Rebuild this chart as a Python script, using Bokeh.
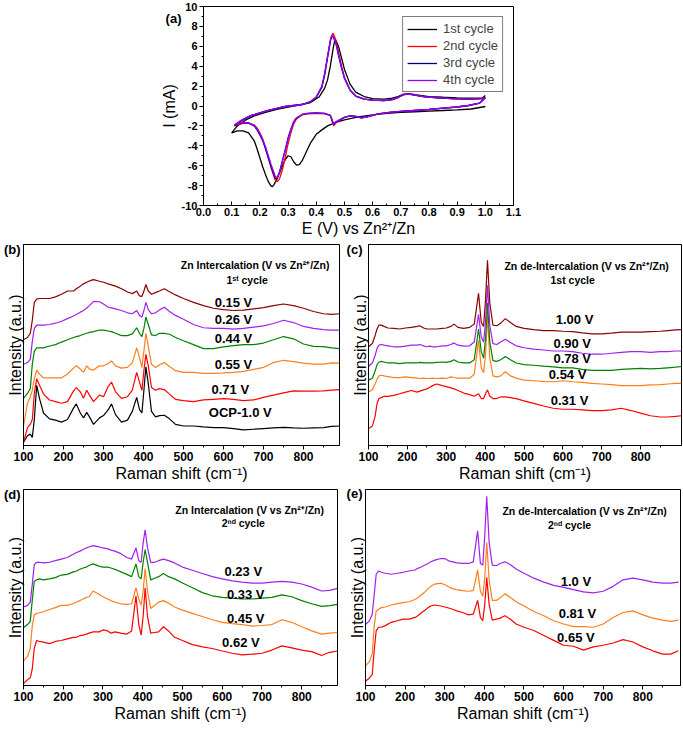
from bokeh.plotting import figure
from bokeh.layouts import column, row
from bokeh.models import (FixedTicker, PrintfTickFormatter, Label, Range1d, Legend, LegendItem,
                          LinearAxis)
from bokeh.embed import file_html
from bokeh.resources import INLINE

FONT = "Liberation Sans"

# ---------------- (a) cyclic voltammetry data ----------------
E_UP = [0.11, 0.13, 0.15, 0.17, 0.20, 0.23, 0.26, 0.29, 0.32, 0.35,
        0.38, 0.40, 0.42, 0.43, 0.44, 0.45, 0.455, 0.46, 0.47, 0.48,
        0.49, 0.50, 0.52, 0.54, 0.57, 0.60, 0.64, 0.67, 0.69, 0.71,
        0.73, 0.75, 0.78, 0.82, 0.88, 0.94, 0.99, 1.00]
E_DN = [0.98, 0.94, 0.90, 0.85, 0.80, 0.75, 0.70, 0.66, 0.62, 0.60,
        0.58, 0.56, 0.54, 0.52, 0.50, 0.48, 0.47, 0.462, 0.455, 0.45,
        0.43, 0.40, 0.37, 0.35, 0.33, 0.32, 0.31, 0.30, 0.29, 0.28,
        0.27, 0.262, 0.255, 0.25, 0.24, 0.23, 0.22, 0.21, 0.20, 0.19,
        0.18, 0.16, 0.14, 0.12, 0.11]
I2_UP = [-1.95, -1.55, -1.2, -0.95, -0.7, -0.45, -0.25, -0.05, 0.05, 0.15,
         0.45, 0.9, 1.9, 3.1, 4.8, 6.5, 7.1, 7.3, 6.6, 5.3,
         4.0, 2.9, 1.6, 1.0, 0.7, 0.6, 0.55, 0.65, 0.85, 1.15,
         1.2, 1.1, 0.95, 0.85, 0.75, 0.7, 0.75, 0.8]
I2_DN = [0.3, 0.05, -0.1, -0.22, -0.35, -0.45, -0.55, -0.65, -0.8, -0.95,
         -1.1, -1.2, -1.05, -1.0, -1.15, -1.5, -1.7, -2.0, -1.4, -0.95,
         -0.8, -0.75, -0.8, -0.9, -1.3, -1.8, -2.7, -3.8, -5.2, -6.4,
         -7.3, -7.6, -7.5, -7.1, -6.2, -5.2, -4.2, -3.3, -2.7, -2.2,
         -1.9, -1.75, -1.75, -1.9, -2.0]
I3_UP = [-2.0, -1.55, -1.25, -0.95, -0.7, -0.45, -0.25, -0.05, 0.05, 0.15,
         0.42, 0.85, 1.9, 3.2, 4.9, 6.5, 7.0, 6.95, 6.3, 5.0,
         3.8, 2.8, 1.6, 1.0, 0.7, 0.6, 0.55, 0.65, 0.85, 1.15,
         1.2, 1.1, 0.95, 0.85, 0.75, 0.7, 0.75, 0.85]
I3_DN = [0.3, 0.05, -0.1, -0.22, -0.35, -0.45, -0.55, -0.65, -0.8, -0.95,
         -1.1, -1.2, -1.05, -1.0, -1.15, -1.45, -1.6, -1.85, -1.3, -0.95,
         -0.75, -0.7, -0.75, -0.85, -1.2, -1.6, -2.3, -3.2, -4.4, -5.5,
         -6.6, -7.2, -7.3, -6.9, -6.1, -5.2, -4.3, -3.5, -2.9, -2.4,
         -2.0, -1.7, -1.65, -1.8, -2.0]
I4_UP = [-1.9, -1.5, -1.2, -0.95, -0.7, -0.45, -0.25, -0.05, 0.05, 0.15,
         0.45, 0.9, 2.0, 3.3, 5.0, 6.6, 7.1, 7.0, 6.3, 5.0,
         3.8, 2.8, 1.6, 1.0, 0.7, 0.6, 0.55, 0.65, 0.85, 1.15,
         1.2, 1.1, 0.95, 0.85, 0.75, 0.7, 0.75, 0.8]
I4_DN = [0.3, 0.05, -0.1, -0.22, -0.35, -0.45, -0.55, -0.65, -0.8, -0.95,
         -1.1, -1.2, -1.05, -1.0, -1.15, -1.45, -1.6, -1.85, -1.3, -0.95,
         -0.75, -0.7, -0.75, -0.85, -1.2, -1.6, -2.4, -3.3, -4.5, -5.6,
         -6.7, -7.2, -7.1, -6.7, -5.9, -5.0, -4.1, -3.4, -2.8, -2.3,
         -2.0, -1.7, -1.65, -1.8, -1.9]
E1_DN = [1.00, 0.95, 0.90, 0.85, 0.80, 0.75, 0.70, 0.65, 0.60, 0.55,
         0.50, 0.47, 0.44, 0.42, 0.40, 0.38, 0.36, 0.35, 0.34, 0.33,
         0.32, 0.31, 0.30, 0.29, 0.28, 0.27, 0.26, 0.25, 0.245, 0.24,
         0.23, 0.22, 0.21, 0.20, 0.19, 0.18, 0.16, 0.14, 0.12, 0.10]
I1_DN = [-0.05, -0.3, -0.38, -0.45, -0.52, -0.58, -0.65, -0.75, -0.9, -1.1,
         -1.4, -1.65, -2.0, -2.4, -2.85, -3.7, -4.9, -5.5, -5.9, -5.95,
         -5.6, -5.1, -5.0, -5.4, -6.0, -6.7, -7.4, -7.9, -8.1, -8.05,
         -7.6, -6.9, -6.1, -5.2, -4.3, -3.5, -2.7, -2.5, -2.5, -2.7]
E1_UP = [0.10, 0.12, 0.15, 0.18, 0.22, 0.26, 0.30, 0.34, 0.38, 0.41,
         0.43, 0.44, 0.45, 0.46, 0.465, 0.47, 0.48, 0.49, 0.50, 0.52,
         0.54, 0.57, 0.60, 0.64, 0.67, 0.69, 0.71, 0.73, 0.75, 0.80,
         0.85, 0.90, 0.95, 0.99, 1.00]
I1_UP = [-2.7, -2.0, -1.4, -1.0, -0.65, -0.35, -0.1, 0.1, 0.35, 0.9,
         1.8, 2.6, 4.0, 5.8, 6.5, 6.6, 5.9, 4.8, 3.7, 2.2,
         1.4, 0.95, 0.75, 0.7, 0.8, 0.95, 1.2, 1.25, 1.15, 0.95,
         0.88, 0.82, 0.8, 0.8, 1.05]
CYCLE_LABELS = ["1st cycle", "2nd cycle", "3rd cycle", "4th cycle"]
CV_X_TICKS = [0.0, 0.1, 0.2, 0.3, 0.4, 0.5, 0.6, 0.7, 0.8, 0.9, 1.0, 1.1]
CV_X_MINOR = [0.05, 0.15, 0.25, 0.35, 0.45, 0.55, 0.65, 0.75, 0.85, 0.95, 1.05]
CV_Y_TICKS = [-10, -8, -6, -4, -2, 0, 2, 4, 6, 8, 10]
CV_Y_MINOR = [-9, -7, -5, -3, -1, 1, 3, 5, 7, 9]

# ---------------- Raman data ----------------
RAMAN_SHIFT = [100, 110, 117, 122, 127, 133, 140, 150, 165, 180,
               195, 210, 225, 232, 242, 250, 258, 265, 275, 290,
               300, 312, 320, 330, 345, 360, 372, 383, 390, 396,
               401, 406, 412, 420, 430, 440, 452, 465, 480, 500,
               525, 550, 575, 600, 625, 650, 675, 700, 725, 750,
               775, 800, 825, 850, 870, 890]
RAMAN_SHIFT_C = RAMAN_SHIFT + [905]
RAMAN_TICKS = [100, 200, 300, 400, 500, 600, 700, 800]
RAMAN_MINOR = [150, 250, 350, 450, 550, 650, 750, 850]

# (b) Zn intercalation, 1st cycle
B_OCP = [10, 30, 35, 25, 80, 185, 145, 100, 82, 78, 72, 80, 115, 128, 100, 85, 102, 88, 65, 85,
         92, 110, 128, 95, 72, 78, 105, 148, 110, 100, 170, 242, 190, 105, 88, 92, 93, 82, 65, 60,
         60, 57, 55, 55, 52, 48, 50, 52, 54, 56, 54, 53, 54, 55, 59, 60]
B_071 = [10, 55, 65, 80, 160, 205, 185, 158, 140, 135, 130, 135, 168, 178, 165, 145, 170, 155, 135, 155,
         150, 182, 195, 165, 145, 150, 170, 225, 195, 170, 230, 280, 245, 178, 170, 175, 172, 158, 142, 138,
         135, 140, 142, 144, 142, 138, 140, 148, 155, 162, 168, 167, 167, 168, 170, 172]
B_055 = [60, 130, 150, 170, 205, 232, 220, 208, 208, 208, 208, 220, 238, 245, 235, 225, 245, 235, 232, 245,
         245, 252, 260, 245, 238, 240, 255, 300, 270, 240, 290, 345, 305, 250, 240, 248, 255, 243, 230, 225,
         225, 222, 222, 223, 225, 228, 234, 240, 255, 262, 258, 253, 250, 250, 254, 253]
B_044 = [145, 160, 175, 250, 290, 300, 300, 300, 306, 310, 318, 325, 332, 335, 338, 342, 345, 348, 350, 355,
         355, 352, 350, 345, 338, 338, 343, 362, 345, 335, 360, 395, 372, 340, 338, 345, 345, 342, 332, 322,
         310, 298, 298, 303, 307, 310, 310, 315, 325, 335, 328, 312, 305, 304, 300, 298]
B_026 = [250, 255, 265, 320, 360, 370, 370, 370, 372, 376, 382, 390, 398, 403, 410, 415, 423, 430, 443, 442,
         435, 425, 423, 420, 415, 408, 405, 415, 400, 395, 415, 440, 418, 405, 408, 417, 425, 412, 400, 388,
         372, 362, 360, 360, 358, 360, 364, 368, 375, 385, 378, 366, 360, 356, 355, 355]
B_015 = [325, 332, 345, 385, 440, 450, 452, 452, 452, 457, 465, 475, 475, 482, 490, 497, 502, 506, 510, 505,
         502, 497, 494, 490, 482, 472, 467, 475, 460, 458, 475, 495, 475, 465, 470, 475, 482, 473, 463, 452,
         440, 430, 422, 418, 415, 416, 420, 424, 430, 435, 430, 422, 412, 405, 403, 405]
B_LABELS = ["OCP-1.0 V", "0.71 V", "0.55 V", "0.44 V", "0.26 V", "0.15 V"]
B_LABEL_X = [642, 617, 625, 625, 625, 625]
B_LABEL_Y = [100, 172, 248, 330, 387, 440]

# (c) Zn de-intercalation, 1st cycle
C_031 = [52, 60, 90, 130, 145, 148, 152, 152, 155, 160, 165, 170, 165, 168, 172, 175, 180, 185, 190, 185,
         182, 178, 175, 170, 162, 157, 152, 160, 145, 145, 160, 172, 152, 145, 145, 150, 150, 148, 145, 138,
         130, 122, 115, 112, 112, 110, 108, 108, 110, 115, 108, 100, 92, 88, 88, 90, 92]
C_054 = [165, 172, 190, 205, 215, 217, 215, 213, 210, 210, 212, 210, 208, 207, 208, 207, 207, 208, 207, 208,
         207, 212, 210, 208, 208, 208, 220, 325, 240, 225, 280, 400, 270, 215, 212, 215, 228, 215, 208, 202,
         200, 198, 197, 200, 197, 195, 192, 190, 188, 185, 185, 185, 187, 188, 190, 192, 192]
C_078 = [202, 208, 230, 250, 258, 260, 258, 255, 255, 253, 255, 255, 255, 257, 255, 255, 255, 255, 257, 258,
         257, 260, 265, 258, 255, 255, 265, 360, 290, 270, 330, 440, 320, 262, 260, 265, 275, 265, 255, 250,
         248, 245, 243, 240, 240, 235, 232, 232, 232, 235, 237, 238, 237, 238, 240, 242, 244]
C_090 = [245, 255, 278, 300, 310, 312, 310, 308, 305, 305, 307, 310, 310, 312, 308, 305, 307, 305, 305, 308,
         308, 312, 317, 310, 307, 308, 320, 405, 335, 320, 380, 495, 370, 315, 312, 320, 328, 318, 308, 302,
         298, 295, 292, 292, 290, 285, 282, 282, 285, 288, 290, 290, 288, 290, 290, 292, 292]
C_100 = [305, 315, 340, 360, 372, 372, 368, 363, 362, 360, 363, 365, 368, 370, 363, 360, 360, 360, 360, 362,
         363, 368, 375, 365, 362, 365, 375, 470, 380, 368, 450, 572, 440, 372, 370, 378, 392, 380, 368, 362,
         358, 355, 355, 353, 352, 348, 345, 345, 347, 350, 350, 350, 352, 353, 355, 357, 358]
C_LABELS = ["0.31 V", "0.54 V", "0.78 V", "0.90 V", "1.00 V"]
C_LABEL_X = [617, 612, 624, 624, 630]
C_LABEL_Y = [138, 218, 270, 315, 388]

# (d) Zn intercalation, 2nd cycle
D_062 = [6, 18, 24, 51, 116, 141, 138, 136, 131, 138, 141, 146, 151, 151, 156, 158, 161, 164, 168, 168,
         174, 171, 164, 168, 164, 161, 171, 281, 191, 158, 216, 306, 216, 164, 166, 168, 184, 171, 151, 141,
         128, 121, 116, 108, 101, 96, 98, 101, 111, 124, 118, 111, 106, 94, 104, 108]
D_045 = [76, 91, 116, 186, 221, 226, 228, 231, 238, 244, 251, 251, 256, 261, 266, 271, 276, 278, 296, 286,
         278, 271, 266, 261, 256, 254, 256, 306, 271, 251, 296, 366, 296, 241, 251, 261, 266, 258, 246, 236,
         226, 216, 206, 198, 194, 191, 186, 188, 191, 206, 198, 184, 171, 161, 164, 166]
D_033 = [181, 191, 201, 266, 326, 331, 334, 331, 334, 338, 346, 348, 356, 358, 364, 368, 371, 376, 381, 374,
         371, 371, 368, 364, 356, 348, 341, 381, 341, 334, 386, 426, 386, 331, 336, 341, 351, 341, 334, 321,
         306, 291, 281, 276, 274, 271, 271, 274, 276, 284, 278, 266, 256, 248, 250, 254]
D_023 = [246, 251, 261, 316, 378, 386, 386, 384, 386, 391, 396, 401, 411, 416, 421, 426, 431, 434, 438, 434,
         431, 428, 424, 421, 413, 401, 396, 431, 391, 386, 446, 488, 431, 386, 386, 391, 396, 391, 384, 371,
         361, 351, 341, 334, 328, 324, 321, 321, 324, 326, 324, 318, 308, 296, 298, 304]
D_LABELS = ["0.62 V", "0.45 V", "0.33 V", "0.23 V"]
D_LABEL_X = [647, 659, 659, 653]
D_LABEL_Y = [134, 211, 286, 356]

# (e) Zn de-intercalation, 2nd cycle
E_065 = [13, 23, 33, 108, 168, 178, 178, 183, 193, 198, 203, 203, 208, 213, 223, 230, 238, 243, 246, 243,
         240, 236, 233, 228, 223, 216, 218, 260, 208, 198, 248, 330, 248, 200, 203, 206, 213, 203, 188, 178,
         168, 153, 138, 123, 120, 108, 118, 123, 130, 140, 133, 118, 106, 96, 96, 106]
E_081 = [60, 73, 98, 183, 228, 233, 238, 240, 246, 250, 253, 256, 263, 268, 278, 286, 296, 303, 310, 313,
         308, 300, 296, 293, 290, 288, 290, 353, 288, 273, 328, 438, 323, 260, 260, 268, 280, 270, 256, 243,
         226, 213, 198, 188, 180, 180, 178, 188, 208, 223, 228, 216, 206, 200, 196, 200]
E_100 = [186, 198, 218, 278, 340, 350, 346, 343, 340, 343, 346, 350, 353, 358, 363, 368, 373, 378, 383, 388,
         388, 380, 378, 375, 373, 373, 378, 473, 373, 368, 458, 578, 438, 368, 366, 373, 378, 370, 356, 343,
         328, 316, 306, 300, 293, 286, 283, 288, 303, 323, 328, 323, 316, 313, 313, 316]
E_LABELS = ["0.65 V", "0.81 V", "1.0 V"]
E_LABEL_X = [631, 635, 631]
E_LABEL_Y = [146, 220, 318]

BLACK, RED, ORANGE, GREEN, PURPLE, BROWN = "#000000", "#ff0000", "#ff7f1a", "#008000", "#a020f0", "#8b0000"
NAVY, VIOLET = "#000080", "#8f00ff"


def style_common(p):
    p.xgrid.visible = False
    p.ygrid.visible = False
    p.outline_line_color = "black"
    p.outline_line_width = 1
    p.outline_line_alpha = 1
    p.background_fill_color = "white"
    p.border_fill_color = "white"
    for ax in (p.xaxis[0], p.yaxis[0]):
        ax.axis_line_color = "black"
        ax.major_tick_line_color = "black"
        ax.minor_tick_line_color = "black"
        ax.major_label_text_font = FONT
        ax.major_label_text_font_style = "bold"
        ax.major_label_text_color = "black"
        ax.axis_label_text_font = FONT
        ax.axis_label_text_font_style = "normal"
        ax.axis_label_text_font_size = "16px"
        ax.axis_label_text_color = "black"
        ax.major_label_standoff = 2
        ax.axis_label_standoff = 1


def text(p, x, y, s, size="13px", bold=True):
    p.add_layout(Label(x=x, y=y, text=s, text_font=FONT, text_font_size=size,
                       text_font_style="bold" if bold else "normal",
                       text_align="center", text_baseline="middle", text_color="black"))


def letter_axis(p, yval, letter, standoff):
    # an extra, invisible left axis whose single tick label is the panel letter
    ax = LinearAxis(ticker=FixedTicker(ticks=[yval]), major_label_overrides={yval: letter},
                    axis_line_color=None, major_tick_line_color=None, minor_tick_line_color=None,
                    major_tick_out=0, major_tick_in=0, minor_tick_out=0, minor_tick_in=0,
                    major_label_standoff=standoff, major_label_text_font=FONT,
                    major_label_text_font_style="bold", major_label_text_font_size="13px",
                    major_label_text_color="black")
    p.add_layout(ax, "left")


# ---------------- figure (a) ----------------
pa = figure(width=683, height=240, x_range=Range1d(0.0, 1.1), y_range=Range1d(-10, 10),
            output_backend="svg", toolbar_location=None,
            min_border_left=203, min_border_right=170, min_border_top=6, min_border_bottom=35)
style_common(pa)
pa.xaxis.ticker = FixedTicker(ticks=CV_X_TICKS, minor_ticks=CV_X_MINOR)
pa.yaxis.ticker = FixedTicker(ticks=CV_Y_TICKS, minor_ticks=CV_Y_MINOR)
pa.xaxis.formatter = PrintfTickFormatter(format="%.1f")
pa.yaxis.formatter = PrintfTickFormatter(format="%d")
pa.xaxis.major_tick_in = 4
pa.xaxis.major_tick_out = 0
pa.xaxis.minor_tick_in = 2
pa.xaxis.minor_tick_out = 0
pa.yaxis.major_tick_in = 0
pa.yaxis.major_tick_out = 4
pa.yaxis.minor_tick_in = 0
pa.yaxis.minor_tick_out = 2
pa.xaxis.major_label_text_font_size = "11px"
pa.yaxis.major_label_text_font_size = "11px"
pa.xaxis.axis_label = "E (V) vs Zn²⁺/Zn"
pa.yaxis.axis_label = "I (mA)"

r1 = pa.line(E1_DN + E1_UP, I1_DN + I1_UP, line_color=BLACK, line_width=1.3)
r2 = pa.line(E_UP + E_DN, I2_UP + I2_DN, line_color=RED, line_width=1.3)
r3 = pa.line(E_UP + E_DN, I3_UP + I3_DN, line_color=NAVY, line_width=1.3)
r4 = pa.line(E_UP + E_DN, I4_UP + I4_DN, line_color=VIOLET, line_width=1.3)
legend = Legend(items=[LegendItem(label=CYCLE_LABELS[i], renderers=[r]) for i, r in enumerate([r1, r2, r3, r4])],
                location="top_right")
legend.border_line_color = "black"
legend.border_line_width = 1
legend.label_text_font = FONT
legend.label_text_font_size = "13px"
legend.glyph_width = 30
legend.glyph_height = 14
legend.label_height = 14
legend.spacing = 2
legend.padding = 4
legend.margin = 10
legend.label_standoff = 6
pa.add_layout(legend)
letter_axis(pa, 8.8, "(a)", -24)


# ---------------- Raman figures ----------------
def raman_fig(width, height, bl, br, bt, bb, xmax, ymax):
    p = figure(width=width, height=height, x_range=Range1d(100, xmax), y_range=Range1d(0, ymax),
               output_backend="svg", toolbar_location=None,
               min_border_left=bl, min_border_right=br, min_border_top=bt, min_border_bottom=bb)
    style_common(p)
    p.xaxis.ticker = FixedTicker(ticks=RAMAN_TICKS, minor_ticks=RAMAN_MINOR)
    p.xaxis.major_tick_in = 0
    p.xaxis.major_tick_out = 4
    p.xaxis.minor_tick_in = 0
    p.xaxis.minor_tick_out = 2
    p.xaxis.major_label_text_font_size = "12px"
    p.xaxis.axis_label = "Raman shift (cm⁻¹)"
    p.yaxis.ticker = FixedTicker(ticks=[])
    p.yaxis.major_tick_out = 0
    p.yaxis.minor_tick_out = 0
    p.yaxis.major_label_text_font_size = "1px"
    p.yaxis.major_label_standoff = 0
    p.yaxis.axis_label_standoff = 0
    p.yaxis.axis_label = "Intensity (a.u.)"
    return p


def add_spectra(p, xs, series, colors, lx, ly, labels):
    for s, c in zip(series, colors):
        p.line(xs, s, line_color=c, line_width=1.2)
    for x, y, s in zip(lx, ly, labels):
        text(p, x, y, s, size="13px")


# (b)
pb = raman_fig(341, 245, 23, 2, 4, 40, 890, 618)
add_spectra(pb, RAMAN_SHIFT, [B_OCP, B_071, B_055, B_044, B_026, B_015],
            [BLACK, RED, ORANGE, GREEN, PURPLE, BROWN], B_LABEL_X, B_LABEL_Y, B_LABELS)
text(pb, 679, 555, "Zn Intercalation (V vs Zn²⁺/Zn)", size="10.5px")
text(pb, 659, 510, "1ˢᵗ cycle", size="10.5px")
letter_axis(pb, 612, "(b)", -17)

# (c)
pc = raman_fig(342, 245, 27, 2, 4, 40, 905, 621)
add_spectra(pc, RAMAN_SHIFT_C, [C_031, C_054, C_078, C_090, C_100],
            [RED, ORANGE, GREEN, PURPLE, BROWN], C_LABEL_X, C_LABEL_Y, C_LABELS)
text(pc, 661, 555, "Zn de-Intercalation (V vs Zn²⁺/Zn)", size="10.5px")
text(pc, 625, 512, "1st cycle", size="10.5px")
letter_axis(pc, 615, "(c)", -14)

# (d)
pd_ = raman_fig(341, 245, 21, 4, 4, 40, 890, 614)
add_spectra(pd_, RAMAN_SHIFT, [D_062, D_045, D_033, D_023],
            [RED, ORANGE, GREEN, PURPLE], D_LABEL_X, D_LABEL_Y, D_LABELS)
text(pd_, 669, 551, "Zn Intercalation (V vs Zn²⁺/Zn)", size="10.5px")
text(pd_, 653, 508, "2ⁿᵈ cycle", size="10.5px")
letter_axis(pd_, 608, "(d)", -17)

# (e)
pe = raman_fig(342, 245, 24, 3, 4, 45, 895, 599)
add_spectra(pe, RAMAN_SHIFT, [E_065, E_081, E_100],
            [RED, ORANGE, PURPLE], E_LABEL_X, E_LABEL_Y, E_LABELS)
text(pe, 653, 533, "Zn de-Intercalation (V vs Zn²⁺/Zn)", size="10.5px")
text(pe, 615, 490, "2ⁿᵈ cycle", size="10.5px")
letter_axis(pe, 590, "(e)", -17)

layout = column(pa, row(pb, pc, spacing=0), row(pd_, pe, spacing=0), spacing=0)
open("out.html", "w").write(file_html(layout, INLINE))
